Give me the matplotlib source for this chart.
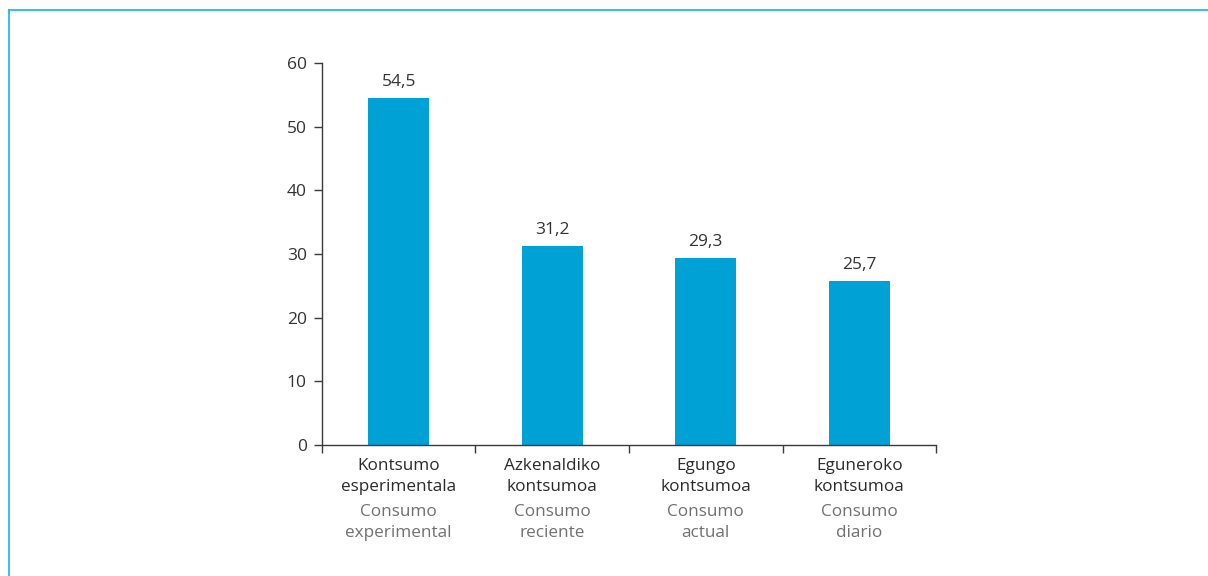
import matplotlib.pyplot as plt
from matplotlib.lines import Line2D
from matplotlib.transforms import blended_transform_factory

categories_eu = ["Kontsumo\nesperimentala", "Azkenaldiko\nkontsumoa",
                 "Egungo\nkontsumoa", "Eguneroko\nkontsumoa"]
categories_es = ["Consumo\nexperimental", "Consumo\nreciente",
                 "Consumo\nactual", "Consumo\ndiario"]
values = [54.5, 31.2, 29.3, 25.7]
y_ticks = [0, 10, 20, 30, 40, 50, 60]

BAR_COLOR = "#00a1d5"
FRAME_COLOR = "#0db4ec"
AXIS_COLOR = "#3a3a3a"

plt.rcParams["font.family"] = ["Open Sans", "DejaVu Sans"]

fig = plt.figure(figsize=(12.08, 5.76), dpi=100)
ax = fig.add_axes([322 / 1208, 131 / 576, 614 / 1208, 382 / 576])

x = list(range(len(values)))
ax.bar(x, values, width=0.4, color=BAR_COLOR, zorder=2)

for xi, v in zip(x, values):
    ax.annotate(f"{v:.1f}".replace(".", ","), (xi, v), xytext=(0, 6),
                textcoords="offset points", ha="center", va="bottom",
                fontsize=12.5, color="#333333")

ax.set_xlim(-0.5, len(values) - 0.5)
ax.set_ylim(0, 60)
ax.set_yticks(y_ticks)
ax.set_yticklabels([str(t) for t in y_ticks], fontsize=12.5, color="#333333")
ax.set_xticks([i - 0.5 for i in range(len(values) + 1)])
ax.set_xticklabels([])
ax.tick_params(axis="both", color=AXIS_COLOR, length=6, width=1)
ax.tick_params(axis="y", pad=5)

for side in ("top", "right"):
    ax.spines[side].set_visible(False)
for side in ("left", "bottom"):
    ax.spines[side].set_color(AXIS_COLOR)
    ax.spines[side].set_linewidth(1)

# two-language category labels under the axis
trans = blended_transform_factory(ax.transData, ax.transAxes)
for xi, eu, es in zip(x, categories_eu, categories_es):
    ax.text(xi, -0.035, eu, transform=trans, ha="center", va="top",
            fontsize=12.3, color="#2b2b2b", linespacing=1.37)
    ax.text(xi, -0.155, es, transform=trans, ha="center", va="top",
            fontsize=12.3, color="#707070", linespacing=1.37)

# thin frame along the top and left edges
fig.add_artist(Line2D([9 / 1208, 1], [1 - 10 / 576, 1 - 10 / 576],
                      transform=fig.transFigure, color=FRAME_COLOR, lw=1.2))
fig.add_artist(Line2D([9 / 1208, 9 / 1208], [0, 1 - 10 / 576],
                      transform=fig.transFigure, color=FRAME_COLOR, lw=1.2))

fig.savefig("out.png", dpi=100)
plt.close(fig)
